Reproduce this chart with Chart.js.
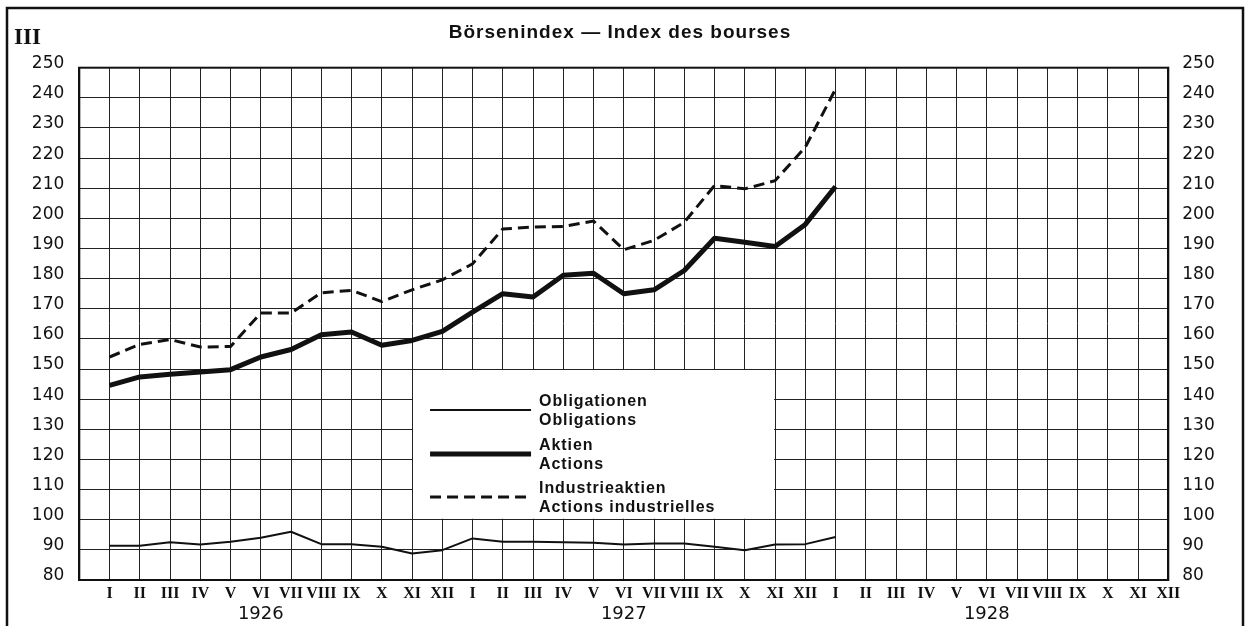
<!DOCTYPE html>
<html>
<head>
<meta charset="utf-8">
<title>Börsenindex — Index des bourses</title>
<script src="https://cdn.jsdelivr.net/npm/chart.js@4/dist/chart.umd.min.js"></script>
<style>
    html, body { margin: 0; padding: 0; background: #fff; }
    canvas { display: block; }
</style>
</head>
<body>
<canvas id="chart" width="1253" height="626"></canvas>
<script>
// Monatsnamen (römisch) und Jahre der x-Achse
const months = ['I', 'II', 'III', 'IV', 'V', 'VI', 'VII', 'VIII', 'IX', 'X', 'XI', 'XII'];
const years = ['1926', '1927', '1928'];

// Werte Januar 1926 bis Januar 1928
const obligationen = [91.4, 91.4, 92.5, 91.8, 92.7, 94, 96, 91.9, 91.9, 91, 88.8, 89.9,
    93.8, 92.7, 92.7, 92.5, 92.4, 91.8, 92.1, 92.1, 91, 89.9, 91.8, 91.9, 94.3];
const aktien = [144.6, 147.4, 148.3, 149, 149.8, 154, 156.5, 161.4, 162.3, 157.9, 159.5, 162.5,
    168.9, 175, 173.9, 181.1, 181.8, 175, 176.3, 182.7, 193.4, 192.1, 190.7, 198, 210.6];
const industrieaktien = [154, 158.2, 159.8, 157.3, 157.5, 168.6, 168.6, 175.3, 176.1, 172.4, 176.3, 179.6,
    184.9, 196.5, 197.1, 197.3, 199.1, 189.6, 192.7, 198.7, 210.9, 209.8, 212.5, 223.6, 242.9];

// Legendentexte (deutsch / französisch)
const legendLabels = [
    ['Obligationen', 'Obligations'],
    ['Aktien', 'Actions'],
    ['Industrieaktien', 'Actions industrielles']
];

const chartTitle = 'Börsenindex — Index des bourses';
const plateNumber = 'III';

const toPoints = arr => arr.map((v, i) => ({ x: i, y: v }));

// Rahmen, Titel, Jahre und Legende
const decor = {
    id: 'decor',
    beforeDraw(chart) {
        const ctx = chart.ctx;
        ctx.save();
        ctx.fillStyle = '#fff';
        ctx.fillRect(0, 0, chart.width, chart.height);
        ctx.restore();
    },
    afterDraw(chart) {
        const ctx = chart.ctx;
        const x = chart.scales.x;
        const y = chart.scales.y;
        const area = chart.chartArea;
        ctx.save();

        // äußerer Rahmen
        ctx.strokeStyle = '#111';
        ctx.lineWidth = 2.5;
        ctx.beginPath();
        ctx.moveTo(7, chart.height);
        ctx.lineTo(7, 8);
        ctx.lineTo(1243, 8);
        ctx.lineTo(1243, chart.height);
        ctx.stroke();

        // Rand der Zeichenfläche
        ctx.lineWidth = 2;
        ctx.strokeRect(area.left, area.top, area.right - area.left, area.bottom - area.top);

        // Titel
        ctx.fillStyle = '#111';
        ctx.textAlign = 'center';
        ctx.textBaseline = 'middle';
        ctx.letterSpacing = '1px';
        ctx.font = 'bold 19px "Liberation Sans", Arial, sans-serif';
        ctx.fillText(chartTitle, 620, 33);
        ctx.letterSpacing = '0px';

        ctx.textAlign = 'left';
        ctx.font = 'bold 23px "Liberation Serif", serif';
        ctx.fillText(plateNumber, 14, 38);

        // Jahreszahlen unter der Achse
        ctx.textAlign = 'center';
        ctx.font = '18px "DejaVu Sans", sans-serif';
        years.forEach((yr, i) => {
            ctx.fillText(yr, x.getPixelForValue(12 * i + 5), 614);
        });

        // Legende in weißem Feld
        const bl = x.getPixelForValue(10), br = x.getPixelForValue(22);
        const bt = y.getPixelForValue(150), bb = y.getPixelForValue(100);
        ctx.fillStyle = '#fff';
        ctx.fillRect(bl + 1, bt + 1, br - bl - 2, bb - bt - 2);

        const rows = [410, 454, 497];
        chart.data.datasets.forEach((ds, i) => {
            ctx.strokeStyle = ds.borderColor;
            ctx.lineWidth = ds.borderWidth;
            ctx.setLineDash(ds.borderDash || []);
            ctx.lineCap = 'butt';
            ctx.beginPath();
            ctx.moveTo(bl + 18, rows[i]);
            ctx.lineTo(bl + 119, rows[i]);
            ctx.stroke();
            ctx.setLineDash([]);

            ctx.fillStyle = '#111';
            ctx.textAlign = 'left';
            ctx.textBaseline = 'alphabetic';
            ctx.letterSpacing = '0.9px';
            ctx.font = 'bold 16px "Liberation Sans", Arial, sans-serif';
            ctx.fillText(legendLabels[i][0], bl + 127, rows[i] - 4);
            ctx.fillText(legendLabels[i][1], bl + 127, rows[i] + 15);
            ctx.letterSpacing = '0px';
        });

        ctx.restore();
    }
};

const yTicks = {
    stepSize: 10,
    color: '#111',
    font: { family: '"DejaVu Sans", sans-serif', size: 17 },
    labelOffset: -4
};

new Chart(document.getElementById('chart'), {
    type: 'line',
    data: {
        datasets: [
            {
                label: legendLabels[0].join(' / '),
                data: toPoints(obligationen),
                borderColor: '#111',
                borderWidth: 2,
                pointRadius: 0,
                borderJoinStyle: 'round'
            },
            {
                label: legendLabels[1].join(' / '),
                data: toPoints(aktien),
                borderColor: '#111',
                borderWidth: 5,
                pointRadius: 0,
                borderJoinStyle: 'round'
            },
            {
                label: legendLabels[2].join(' / '),
                data: toPoints(industrieaktien),
                borderColor: '#111',
                borderWidth: 3,
                borderDash: [11, 6],
                pointRadius: 0
            }
        ]
    },
    options: {
        responsive: false,
        animation: false,
        devicePixelRatio: 1,
        layout: { padding: { top: 67.7, left: 0, right: 0, bottom: 0 } },
        plugins: {
            legend: { display: false },
            tooltip: { enabled: false }
        },
        scales: {
            x: {
                type: 'linear',
                min: -1,
                max: 35,
                afterFit: s => { s.height = 46; },
                grid: { color: '#222', lineWidth: 1, drawTicks: false },
                border: { color: '#111', width: 2 },
                ticks: {
                    stepSize: 1,
                    autoSkip: false,
                    maxRotation: 0,
                    padding: 4,
                    color: '#111',
                    font: { family: '"Liberation Serif", serif', size: 16, weight: 'bold' },
                    callback: v => (v >= 0 ? months[v % 12] : '')
                }
            },
            y: {
                position: 'left',
                min: 80,
                max: 250,
                afterFit: s => { s.width = 79.3; },
                grid: { color: '#222', lineWidth: 1, drawTicks: false },
                border: { color: '#111', width: 2 },
                ticks: Object.assign({ padding: 15 }, yTicks)
            },
            y2: {
                position: 'right',
                min: 80,
                max: 250,
                afterFit: s => { s.width = 84.7; },
                grid: { display: false, drawTicks: false },
                border: { color: '#111', width: 2 },
                ticks: Object.assign({ padding: 14 }, yTicks)
            }
        }
    },
    plugins: [decor]
});
</script>
</body>
</html>
